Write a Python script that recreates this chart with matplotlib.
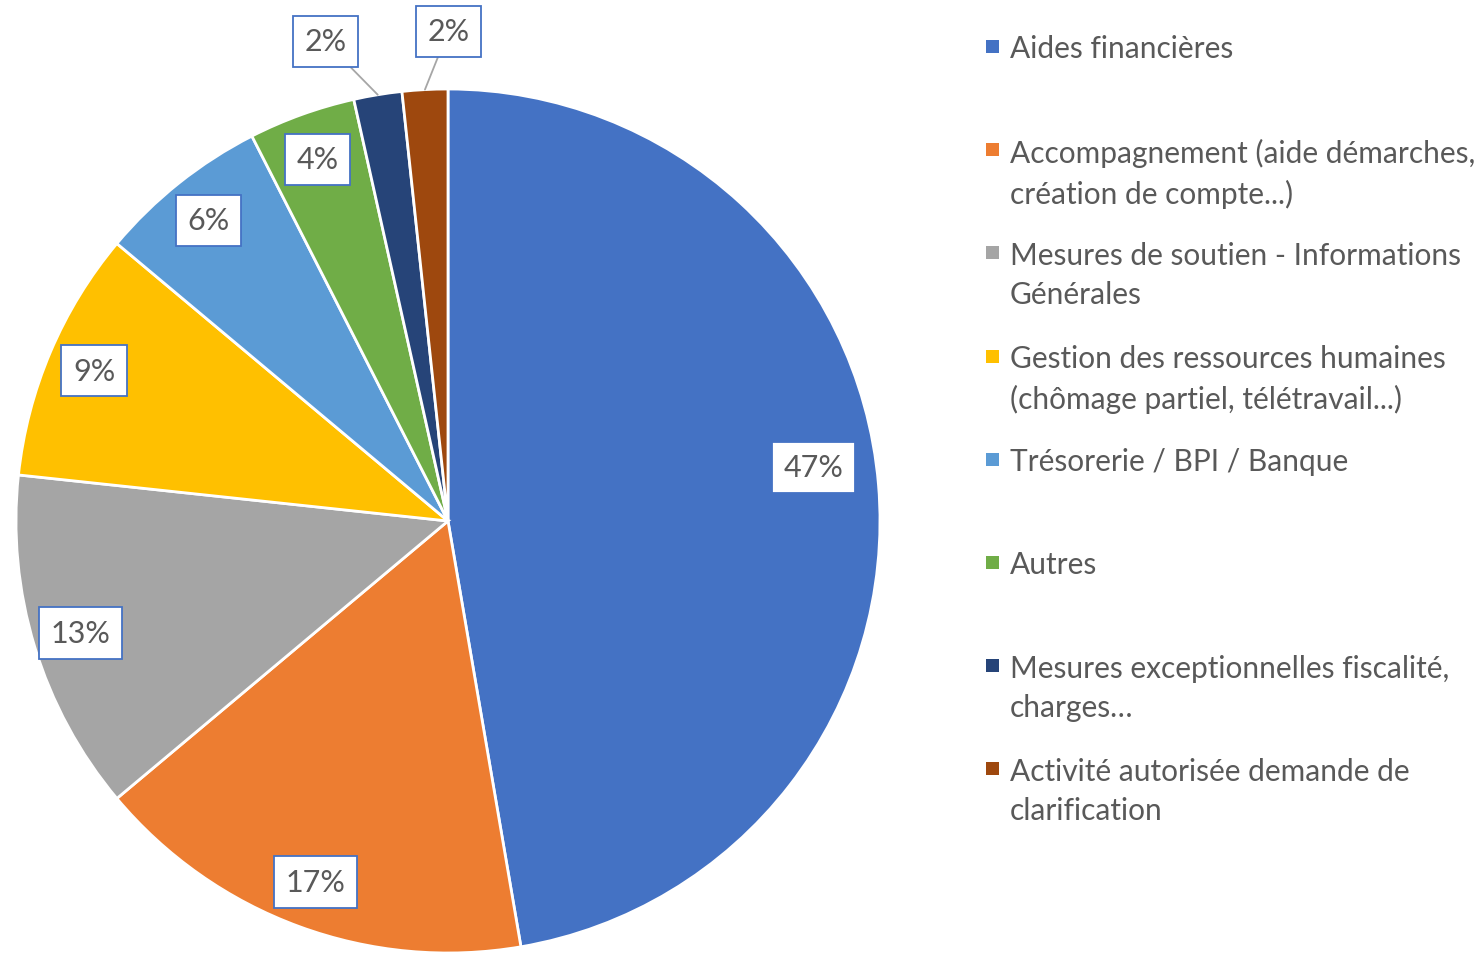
import numpy as np
import matplotlib
matplotlib.use('Agg')
import matplotlib.pyplot as plt

# -------- data --------
categories = [
    'Aides financières',
    'Accompagnement (aide démarches,\ncréation de compte...)',
    'Mesures de soutien - Informations\nGénérales',
    'Gestion des ressources humaines\n(chômage partiel, télétravail...)',
    'Trésorerie / BPI / Banque',
    'Autres',
    'Mesures exceptionnelles fiscalité,\ncharges…',
    'Activité autorisée demande de\nclarification',
]
values = [47.3, 16.6, 12.8, 9.4, 6.4, 4.0, 1.8, 1.7]
pct_labels = ['47%', '17%', '13%', '9%', '6%', '4%', '2%', '2%']
colors = ['#4472C4', '#ED7D31', '#A5A5A5', '#FFC000',
          '#5B9BD5', '#70AD47', '#264478', '#9E480E']
# ----------------------

text_color = '#595959'
plt.rcParams['font.family'] = ['Lato', 'DejaVu Sans']

W, H = 1483, 954
fig = plt.figure(figsize=(W / 100, H / 100), dpi=100)

# pie axes: centre (448, 522) px, radius 432 px
cx, cy, r = 448, 522, 432
ax = fig.add_axes([(cx - r) / W, (H - cy - r) / H, 2 * r / W, 2 * r / H])
wedges, _ = ax.pie(values, colors=colors, startangle=90, counterclock=False,
                   radius=1, wedgeprops=dict(edgecolor='white', linewidth=2))
ax.set_xlim(-1, 1)
ax.set_ylim(-1, 1)
ax.set_aspect('equal')
ax.axis('off')

# label placement (radius factor, angle shift in degrees)
label_r = [0.855, 0.89, 0.89, 0.89, 0.89, 0.89, 1.146, 1.134]
label_shift = [3.5, 0, 0, 0, 0, 0, 5.0, -3.1]

box = dict(boxstyle='square,pad=0.38', facecolor='white',
           edgecolor='#4472C4', linewidth=1.3)

for i, w in enumerate(wedges):
    mid = np.deg2rad((w.theta1 + w.theta2) / 2)
    ang = mid + np.deg2rad(label_shift[i])
    tx, ty = label_r[i] * np.cos(ang), label_r[i] * np.sin(ang)
    if label_r[i] > 1:
        ax.annotate(pct_labels[i], xy=(np.cos(mid), np.sin(mid)),
                    xytext=(tx, ty), ha='center', va='center',
                    fontsize=22, color=text_color, bbox=box,
                    annotation_clip=False,
                    arrowprops=dict(arrowstyle='-', color='#A6A6A6',
                                    linewidth=1.3, shrinkA=0, shrinkB=0))
    else:
        ax.text(tx, ty, pct_labels[i], ha='center', va='center',
                fontsize=22, color=text_color, bbox=box)

# legend, equally spaced entries (y = centre of first line, in px)
y0, step = 47.5, 103.2
for i, name in enumerate(categories):
    y = y0 + i * step
    fig.patches.append(plt.Rectangle((986 / W, (H - y - 6.5) / H), 13 / W, 13 / H,
                                     transform=fig.transFigure,
                                     facecolor=colors[i], edgecolor='none'))
    fig.text(1010 / W, (H - y + 12) / H, name, ha='left', va='top',
             fontsize=21.5, color=text_color, linespacing=1.5)

plt.savefig('out.png', dpi=100, facecolor='white')
